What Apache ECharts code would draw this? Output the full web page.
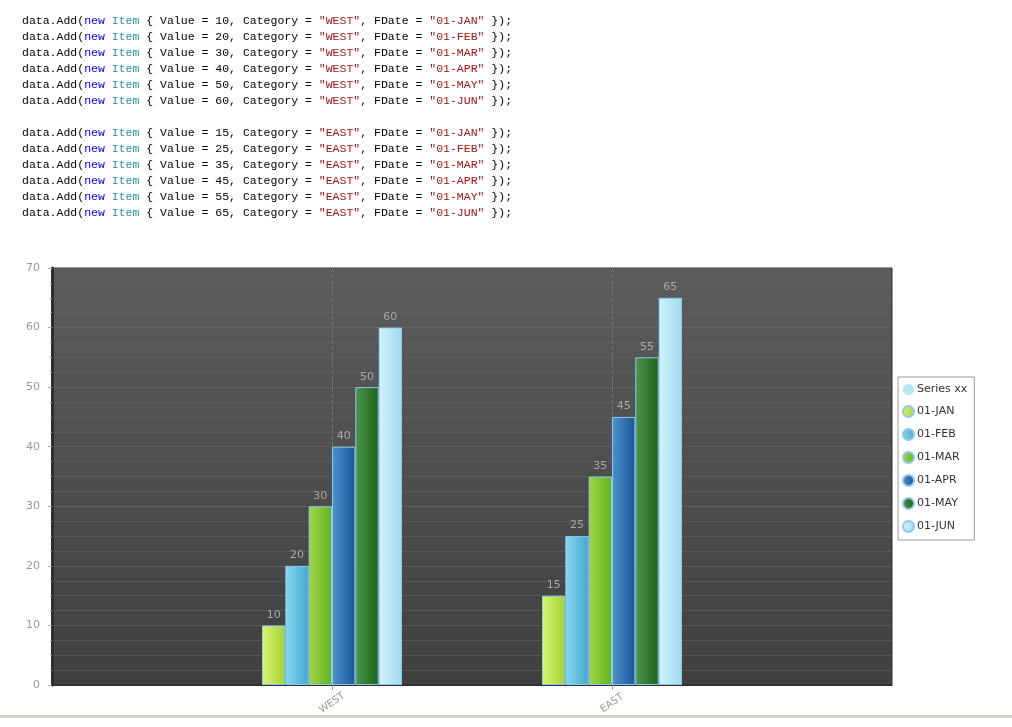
<!DOCTYPE html>
<html>
<head>
<meta charset="utf-8">
<script src="https://cdn.jsdelivr.net/npm/echarts@6/dist/echarts.min.js"></script>
<style>
html,body{margin:0;padding:0;background:#fff;width:1012px;height:727px;overflow:hidden;}
#code{position:absolute;left:22px;top:13px;margin:0;font-family:"Liberation Mono","DejaVu Sans Mono",monospace;font-size:11.5px;line-height:16px;color:#000;z-index:2;}
#code .kw{color:#0000ff}
#code .ty{color:#2b91af}
#code .st{color:#a31515}
#chart{position:absolute;left:0;top:0;width:1012px;height:727px;}
#rule{position:absolute;left:0;top:715px;width:1012px;height:3px;background:#d8d4cc;}
</style>
</head>
<body>
<pre id="code"></pre>
<div id="chart"></div>
<div id="rule"></div>
<script>
// ---- data ----
const categories = ['WEST', 'EAST'];
const months = ['01-JAN', '01-FEB', '01-MAR', '01-APR', '01-MAY', '01-JUN'];
const westValues = [10, 20, 30, 40, 50, 60];
const eastValues = [15, 25, 35, 45, 55, 65];
const extraSeriesName = 'Series xx';
const yMin = 0, yMax = 70, yStep = 10;

// ---- styles ----
const monthColors = [
  ['#d8f870', '#a2d03c'],
  ['#86d8f2', '#46a6cc'],
  ['#a0d648', '#62b21c'],
  ['#4e94cc', '#1a5498'],
  ['#4e944c', '#1a6216'],
  ['#d4f4fc', '#a0d8ee']
];

// ---- code listing text ----
const esc = s => s.replace(/&/g,'&amp;').replace(/</g,'&lt;');
const valuesByCat = [westValues, eastValues];
let html = '';
categories.forEach((cat, ci) => {
  months.forEach((m, mi) => {
    html += 'data.Add(<span class="kw">new</span> <span class="ty">Item</span> { Value = ' + valuesByCat[ci][mi] +
      ', Category = <span class="st">"' + esc(cat) + '"</span>, FDate = <span class="st">"' + esc(m) + '"</span> });\n';
  });
  if (ci < categories.length - 1) html += '\n';
});
document.getElementById('code').innerHTML = html;

// ---- chart ----
const axisCats = [''].concat(categories, ['']);
const chart = echarts.init(document.getElementById('chart'), null, {renderer: 'canvas'});

const grad = (c) => new echarts.graphic.LinearGradient(0, 0, 1, 0, [
  {offset: 0, color: c[0]}, {offset: 1, color: c[1]}
]);

const series = [{
  name: extraSeriesName,
  type: 'line',
  data: [],
  itemStyle: {color: '#b4e6f8'}
}];
months.forEach((m, i) => {
  series.push({
    name: m,
    type: 'bar',
    barGap: '0%',
    barCategoryGap: '50%',
    data: [null, westValues[i], eastValues[i], null],
    itemStyle: {color: grad(monthColors[i]), borderColor: '#8ec8ee', borderWidth: 1},
    label: {
      show: true, position: 'top', distance: 5,
      color: '#a8a8a8', fontSize: 11, fontFamily: 'Verdana, "DejaVu Sans", sans-serif'
    }
  });
});

const showCat = (idx) => idx >= 1 && idx <= categories.length;

chart.setOption({
  animation: false,
  grid: {
    left: 52, right: 120, top: 268, bottom: 42,
    show: true,
    borderColor: '#2e2e2e', borderWidth: 1,
    backgroundColor: new echarts.graphic.LinearGradient(0, 0, 0, 1, [
      {offset: 0, color: '#5c5c5c'}, {offset: 1, color: '#404040'}
    ])
  },
  legend: {
    orient: 'vertical',
    left: 898, top: 377,
    data: [extraSeriesName].concat(months),
    icon: 'circle',
    itemWidth: 11, itemHeight: 11,
    itemGap: 10,
    padding: [7, 7, 7, 4],
    backgroundColor: '#fff',
    borderColor: '#9a9a9a', borderWidth: 1,
    textStyle: {color: '#333', fontSize: 11, fontFamily: 'Verdana, "DejaVu Sans", sans-serif', padding: [0, 0, 0, -2]}
  },
  xAxis: {
    type: 'category',
    data: axisCats,
    boundaryGap: false,
    axisLine: {lineStyle: {color: '#2e2e2e', width: 1}},
    axisTick: {show: true, interval: (i) => showCat(i), length: 5, lineStyle: {color: '#999'}},
    axisLabel: {
      interval: (i) => showCat(i),
      rotate: 35, margin: 18, align: 'center', verticalAlign: 'middle',
      color: '#999', fontSize: 10, fontFamily: 'Verdana, "DejaVu Sans", sans-serif'
    },
    splitLine: {show: true, interval: (i) => showCat(i), lineStyle: {color: '#737373', type: 'dashed', width: 1}}
  },
  yAxis: {
    type: 'value',
    min: yMin, max: yMax, interval: yStep,
    axisLine: {show: true, lineStyle: {color: '#2e2e2e', width: 3}},
    axisTick: {show: true, length: 4, lineStyle: {color: '#aaa'}},
    minorTick: {show: true, splitNumber: 4, length: 2, lineStyle: {color: '#aaa'}},
    axisLabel: {color: '#999', fontSize: 11, margin: 12, fontFamily: 'Verdana, "DejaVu Sans", sans-serif'},
    splitLine: {show: true, lineStyle: {color: '#6e6e6e', type: 'dotted', width: 1}},
    minorSplitLine: {show: true, lineStyle: {color: '#666', type: 'dotted', width: 1}}
  },
  series: series
});
</script>
</body>
</html>
